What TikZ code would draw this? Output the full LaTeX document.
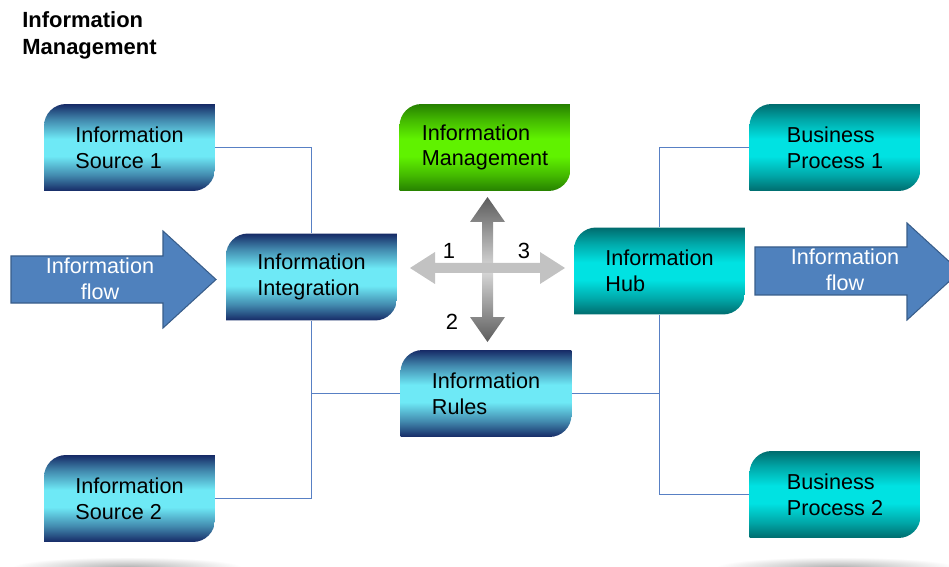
\documentclass[tikz,border=0pt]{standalone}
\usepackage{fontspec}
\setmainfont{Liberation Sans}
\usetikzlibrary{calc}

\definecolor{tabnavy}{RGB}{22,42,102}
\definecolor{tabcyan}{RGB}{110,233,246}
\colorlet{tabmid}{tabnavy!50!tabcyan}
\definecolor{mgmtdark}{RGB}{38,128,0}
\definecolor{mgmtlight}{RGB}{96,242,0}
\colorlet{mgmtmid}{mgmtdark!50!mgmtlight}
\definecolor{hubdark}{RGB}{0,108,110}
\definecolor{hublight}{RGB}{0,226,226}
\colorlet{hubmid}{hubdark!50!hublight}
\definecolor{linkblue}{RGB}{88,128,196}
\definecolor{flowfill}{RGB}{79,129,189}
\definecolor{flowedge}{RGB}{56,93,138}
\definecolor{crossdark}{RGB}{92,92,92}
\definecolor{crosslight}{RGB}{218,218,218}
\definecolor{crossgray}{RGB}{194,194,194}

\pgfdeclareverticalshading{tabblue}{100bp}{color(0bp)=(tabnavy); color(25bp)=(tabnavy); color(34bp)=(tabmid); color(45bp)=(tabcyan); color(55bp)=(tabcyan); color(66bp)=(tabmid); color(75bp)=(tabnavy); color(100bp)=(tabnavy)}
\pgfdeclareverticalshading{tabgreen}{100bp}{color(0bp)=(mgmtdark); color(25bp)=(mgmtdark); color(34bp)=(mgmtmid); color(45bp)=(mgmtlight); color(55bp)=(mgmtlight); color(66bp)=(mgmtmid); color(75bp)=(mgmtdark); color(100bp)=(mgmtdark)}
\pgfdeclareverticalshading{tabteal}{100bp}{color(0bp)=(hubdark); color(25bp)=(hubdark); color(34bp)=(hubmid); color(45bp)=(hublight); color(55bp)=(hublight); color(66bp)=(hubmid); color(75bp)=(hubdark); color(100bp)=(hubdark)}
\pgfdeclareverticalshading{crossv}{100bp}{color(0bp)=(crossdark); color(25bp)=(crossdark); color(50bp)=(crosslight); color(75bp)=(crossdark); color(100bp)=(crossdark)}

\tikzset{
  tab/.style={minimum width=3.42cm, minimum height=1.74cm, inner sep=0pt,
    align=left, font=\fontsize{12.3}{14.7}\selectfont,
    path picture={\shade[shading=#1] (path picture bounding box.south west)
      -- ([yshift=-0.44cm]path picture bounding box.north west)
      arc[start angle=180, end angle=90, radius=0.44cm]
      -- (path picture bounding box.north east)
      -- ([yshift=0.44cm]path picture bounding box.south east)
      arc[start angle=0, end angle=-90, radius=0.44cm] -- cycle;}},
  link/.style={draw=linkblue, line width=0.5pt},
  flow/.style={fill=flowfill, draw=flowedge, line width=0.6pt},
  flowtext/.style={text=white, align=center, font=\fontsize{12.3}{14.7}\selectfont},
  num/.style={font=\fontsize{12.5}{14}\selectfont}
}

\begin{document}
\begin{tikzpicture}[x=0.02cm, y=-0.02cm]
  \useasboundingbox (0, 0) rectangle (949, 567);
  % floor shadows
  \shade[inner color=black!30, outer color=white] (127, 567) ellipse [x radius=115, y radius=10];
  \shade[inner color=black!30, outer color=white] (836, 567) ellipse [x radius=120, y radius=10];

  \node[anchor=north west, inner sep=0pt, align=left,
        font=\fontsize{12.5}{15.3}\selectfont\bfseries] (title) at (22, 11) {Information\\Management};

  \node[tab=tabblue] (src1) at (129.5, 147.5) {Information\\Source 1};
  \node[tab=tabblue] (integ) at (311.5, 277) {Information\\Integration};
  \node[tab=tabgreen] (mgmt) at (485, 147.5) {Information\\Management};
  \node[tab=tabteal] (bp1) at (835, 147.5) {Business\\Process 1};
  \node[tab=tabteal] (hub) at (659.5, 271) {Information\\Hub};
  \node[tab=tabblue] (rules) at (486, 393.5) {Information\\Rules};
  \node[tab=tabblue] (src2) at (129.5, 498.5) {Information\\Source 2};
  \node[tab=tabteal] (bp2) at (835, 494.5) {Business\\Process 2};

  % connectors
  \draw[link] (src1.east) -| (integ.north);
  \draw[link] (integ.south) |- (src2.east);
  \draw[link] (rules.west) -- (rules.west -| integ.south);
  \draw[link] (bp1.west) -| (hub.north);
  \draw[link] (hub.south) |- (bp2.west);
  \draw[link] (rules.east) -- (rules.east -| hub.south);

  % flow arrows
  \draw[flow] (11, 256) -- (163, 256) -- (163, 231) -- (216, 279.5)
    -- (163, 328) -- (163, 303) -- (11, 303) -- cycle;
  \node[flowtext] (inflow) at (100, 279) {Information\\flow};
  \draw[flow] (755, 247) -- (907, 247) -- (907, 223) -- (960, 271.5)
    -- (907, 320) -- (907, 295) -- (755, 295) -- cycle;
  \node[flowtext] (outflow) at (845, 270) {Information\\flow};

  % cross
  \shade[shading=crossv] (487.5, 197) -- (505, 222) -- (493, 222) -- (493, 317)
    -- (505, 317) -- (487.5, 342) -- (470, 317) -- (482, 317) -- (482, 222)
    -- (470, 222) -- cycle;
  \fill[crossgray] (410, 268) -- (435, 252) -- (435, 263) -- (540, 263)
    -- (540, 252) -- (565, 268) -- (540, 284) -- (540, 273) -- (435, 273)
    -- (435, 284) -- cycle;
  \node[num] (one) at (449, 251) {1};
  \node[num] (three) at (524, 251) {3};
  \node[num] (two) at (452, 322) {2};
\end{tikzpicture}
\end{document}
